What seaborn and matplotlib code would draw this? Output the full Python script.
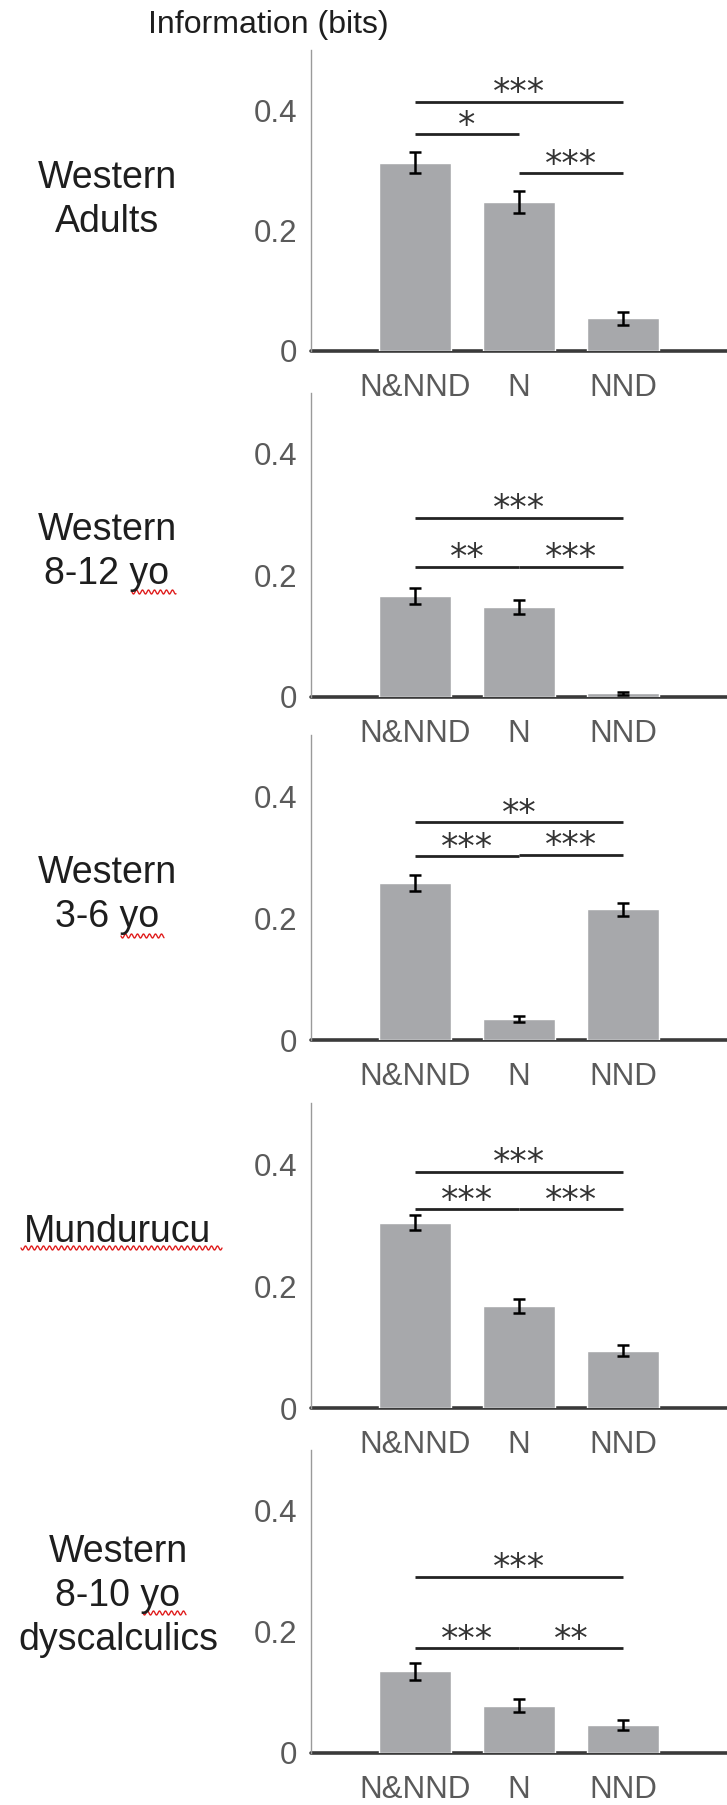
import matplotlib
matplotlib.use("Agg")
import matplotlib.pyplot as plt
import seaborn as sns
import pandas as pd
import numpy as np

# ---------------- data ----------------
categories = ["N&NND", "N", "NND"]
groups = ["Western\nAdults", "Western\n8-12 yo", "Western\n3-6 yo",
          "Mundurucu", "Western\n8-10 yo\ndyscalculics"]

adults_mean = [0.313, 0.247, 0.054]
adults_err = [0.018, 0.018, 0.010]
kids812_mean = [0.166, 0.148, 0.006]
kids812_err = [0.013, 0.012, 0.003]
kids36_mean = [0.258, 0.034, 0.214]
kids36_err = [0.013, 0.005, 0.011]
munduruku_mean = [0.304, 0.167, 0.094]
munduruku_err = [0.012, 0.011, 0.009]
dyscalc_mean = [0.135, 0.078, 0.046]
dyscalc_err = [0.014, 0.011, 0.008]

means = [adults_mean, kids812_mean, kids36_mean, munduruku_mean, dyscalc_mean]
errs = [adults_err, kids812_err, kids36_err, munduruku_err, dyscalc_err]

# significance brackets: (from category index, to category index, height, label)
adults_sig = [(0, 2, 0.414, "***"), (0, 1, 0.360, "*"), (1, 2, 0.295, "***")]
kids812_sig = [(0, 2, 0.295, "***"), (0, 1, 0.214, "**"), (1, 2, 0.214, "***")]
kids36_sig = [(0, 2, 0.357, "**"), (0, 1, 0.301, "***"), (1, 2, 0.304, "***")]
munduruku_sig = [(0, 2, 0.387, "***"), (0, 1, 0.326, "***"), (1, 2, 0.326, "***")]
dyscalc_sig = [(0, 2, 0.291, "***"), (0, 1, 0.173, "***"), (1, 2, 0.173, "**")]
sigs = [adults_sig, kids812_sig, kids36_sig, munduruku_sig, dyscalc_sig]

yticks = [0, 0.2, 0.4]
ytick_labels = ["0", "0.2", "0.4"]
ylabel = "Information (bits)"

# ---------------- style ----------------
sns.set_style("white")
plt.rcParams["font.family"] = ["Liberation Sans", "DejaVu Sans"]

W, H = 727, 1805
fig = plt.figure(figsize=(W / 100, H / 100), dpi=100)

tops = [50, 393, 735, 1103, 1450]
zeros = [351, 697, 1040, 1408, 1753]
label_x = [107, 107, 107, 118, 118]
label_y = [200, 552, 895, 1232, 1596]

bar_color = "#a7a8ab"
tick_color = "#5a5a5a"

for k in range(5):
    ax = fig.add_axes([311 / W, 1 - zeros[k] / H, 416 / W, (zeros[k] - tops[k]) / H])
    df = pd.DataFrame({"cond": categories, "info": means[k]})
    sns.barplot(data=df, x="cond", y="info", order=categories, color=bar_color,
                width=0.7, errorbar=None, saturation=1, ax=ax, zorder=2)
    ax.errorbar(range(len(categories)), means[k], yerr=errs[k], fmt="none",
                ecolor="black", elinewidth=1.8, capsize=4, capthick=1.8, zorder=3)
    ax.axhline(0, color="#3a3a3a", lw=2.6, zorder=1, clip_on=False)
    for (i, j, h, lab) in sigs[k]:
        ax.plot([i, j], [h, h], color="#222222", lw=2.0, solid_capstyle="butt",
                zorder=4, clip_on=False)
        ax.annotate(lab, xy=((i + j) / 2, h), xytext=(0, -1.5),
                    textcoords="offset pixels", ha="center", va="baseline",
                    fontsize=25, family="DejaVu Sans", color="#333333")
    ax.set_xlim(-1, 3)
    ax.set_ylim(0, 0.5)
    ax.set_yticks(yticks)
    ax.set_yticklabels(ytick_labels)
    ax.set_xlabel("")
    ax.set_ylabel("")
    for s in ["top", "right", "bottom"]:
        ax.spines[s].set_visible(False)
    ax.spines["left"].set_color("#9a9a9a")
    ax.spines["left"].set_linewidth(1.0)
    ax.tick_params(axis="y", direction="in", length=3, width=0.8, color="#9a9a9a",
                   labelsize=22.5, labelcolor=tick_color, pad=10)
    ax.tick_params(axis="x", direction="in", length=3, width=0.8, color="#9a9a9a",
                   labelsize=22.5, labelcolor=tick_color, pad=16)
    ax.patch.set_alpha(0)
    fig.text(label_x[k] / W, 1 - label_y[k] / H, groups[k], ha="center", va="center",
             multialignment="center", fontsize=27, color="#1e1e1e", linespacing=1.3)

fig.text(268 / W, 1 - 25 / H, ylabel, ha="center", va="center", fontsize=23,
         color="#1e1e1e")

# red spell-check squiggles under "yo" and "Mundurucu" (as in the source image)
squiggles = [(132, 176, 592), (121, 164, 936), (21, 222, 1248), (143, 186, 1613)]
for x0, x1, yy in squiggles:
    xs = np.linspace(x0, x1, int((x1 - x0) * 3))
    ys = yy + 2.0 * np.sin((xs - x0) / 6.0 * 2 * np.pi)
    fig.add_artist(plt.Line2D(xs / W, 1 - ys / H, color="#e02020", lw=1.0,
                              transform=fig.transFigure))

fig.savefig("out.png", dpi=100)
